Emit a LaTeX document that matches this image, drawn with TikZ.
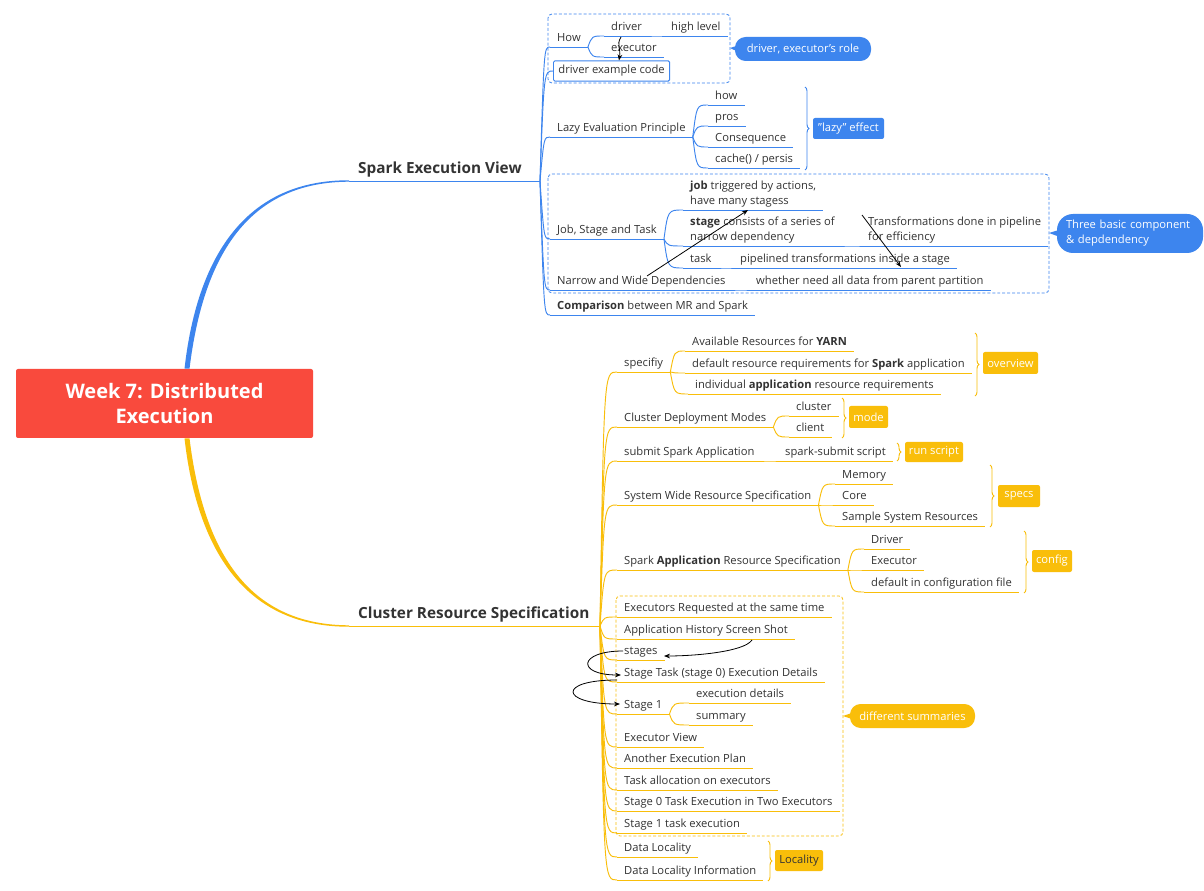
\documentclass[tikz,border=0pt]{standalone}
\usepackage{fontspec}
\setmainfont{Open Sans}
\usetikzlibrary{calc, arrows.meta, decorations.pathreplacing}
\definecolor{mmblue}{HTML}{3D85EE}
\definecolor{mmyellow}{HTML}{F9BE0A}
\definecolor{mmred}{HTML}{F94A3D}
\definecolor{mmtext}{HTML}{333333}

\tikzset{
  topic/.style={anchor=south west, inner xsep=5.2pt, inner ysep=2pt, text depth=2pt,
    font=\fontsize{8.4}{11.25}\selectfont, text=mmtext},
  branch/.style={anchor=south west, inner xsep=6.7pt, inner ysep=3pt, text depth=2.5pt,
    font=\bfseries\fontsize{11.5}{13}\selectfont, text=mmtext},
  rootbox/.style={fill=mmred, rounded corners=1.5pt, text=white, align=center,
    minimum width=222.75pt, minimum height=51.75pt, font=\bfseries\fontsize{15}{19}\selectfont},
  codebox/.style={anchor=west, draw=mmblue, line width=0.7pt, rounded corners=1pt, inner xsep=3.7pt,
    minimum height=13.5pt, font=\fontsize{8.4}{10}\selectfont, text=mmtext},
  bline/.style={draw=mmblue, line width=0.7pt},
  yline/.style={draw=mmyellow, line width=0.7pt},
  bdash/.style={draw=mmblue, line width=0.6pt, dash pattern=on 2.2pt off 1.5pt, rounded corners=3pt},
  ydash/.style={draw=mmyellow, line width=0.6pt, dash pattern=on 2.2pt off 1.5pt, rounded corners=3pt},
  bbrace/.style={draw=mmblue, line width=0.7pt, decorate, decoration={brace, amplitude=3pt}},
  ybrace/.style={draw=mmyellow, line width=0.7pt, decorate, decoration={brace, amplitude=3pt}},
  tag/.style={rounded corners=1.5pt, text=white, inner sep=0pt, font=\fontsize{8.4}{10}\selectfont},
  pill/.style={rounded corners=8pt, text=white, inner sep=0pt, align=left, font=\fontsize{8.4}{11.25}\selectfont},
  arr/.style={draw=black, line width=0.6pt, -{Stealth[length=4.5pt, width=3.5pt]}},
}

\begin{document}
\begin{tikzpicture}[x=0.75pt, y=-0.75pt]
\useasboundingbox (0,0) rectangle (1204,891);
\fill[white] (0,0) rectangle (1204,891);

% root and main branches
\node[rootbox] (root) at (164.5,403.5) {Week 7: Distributed\\Execution};
\node[branch] (sev) at (349,181) {Spark Execution View};
\node[branch] (crs) at (349,626) {Cluster Resource Specification};
\coordinate (sevend) at ($(sev.south west)+(191,0)$);
\coordinate (crsend) at ($(crs.south west)+(251,0)$);
\fill[mmblue] ($(root.north)+(20,0)$) .. controls (198,250) and (250,180) .. ($(sev.south west)+(0,-0.7)$)
  -- ($(sev.south west)+(0,0.7)$) .. controls (252,182) and (204,250) .. ($(root.north)+(25,0)$) -- cycle;
\fill[mmyellow] ($(root.south)+(20,0)$) .. controls (198,557) and (250,627) .. ($(crs.south west)+(0,0.7)$)
  -- ($(crs.south west)+(0,-0.7)$) .. controls (252,625) and (204,557) .. ($(root.south)+(25,0)$) -- cycle;
\draw[bline] (sev.south west) -- (sevend);
\draw[yline] (crs.south west) -- (crsend);

% Spark Execution View
\node[topic] (how) at (550,47) {How};
\node[topic] (driver) at (604,36) {driver};
\node[topic] (high) at (664,36) {high level};
\node[topic] (executor) at (604,57) {executor};
\node[codebox] (code) at (553,71) {driver example code};
\node[topic] (lazy) at (550,137) {Lazy Evaluation Principle};
\node[topic] (how2) at (708,105) {how};
\node[topic] (pros) at (708,126) {pros};
\node[topic] (cons) at (708,147) {Consequence};
\node[topic] (cache) at (708,168) {cache() / persis};
\node[topic] (jst) at (550,239) {Job, Stage and Task};
\node[topic, align=left] (job) at (683,210) {\textbf{job} triggered by actions,\\have many stagess};
\node[topic, align=left] (stage) at (683,246) {\textbf{stage} consists of a series of\\narrow dependency};
\node[topic, align=left] (trans) at (861,246) {Transformations done in pipeline\\for efficiency};
\node[topic] (task) at (683,268) {task};
\node[topic] (pipe) at (733,268) {pipelined transformations inside a stage};
\node[topic] (nwd) at (550,290) {Narrow and Wide Dependencies};
\node[topic] (whether) at (749,290) {whether need all data from parent partition};
\node[topic] (cmp) at (550,315) {\textbf{Comparison} between MR and Spark};

\foreach \n in {how,driver,high,executor,lazy,how2,pros,cons,cache,jst,job,stage,trans,task,pipe,nwd,whether,cmp}
  \draw[bline] (\n.south west) -- (\n.south east);
\foreach \c in {how,lazy,jst,nwd,cmp}
  \draw[bline] (sevend) .. controls ($(sevend |- \c.south west)+(4,0)$) .. (\c.south west);
\draw[bline] (sevend) .. controls ($(sevend |- code.west)+(4,0)$) .. (code.west);
\foreach \p/\c in {how/driver,how/executor,driver/high,lazy/how2,lazy/pros,lazy/cons,lazy/cache,
    jst/job,jst/stage,jst/task,stage/trans,task/pipe,nwd/whether}
  \draw[bline] (\p.south east) .. controls ($(\p.south east |- \c.south west)+(4,0)$) .. (\c.south west);

% boundaries and summaries
\draw[bdash] (548,14) rectangle (730,83);
\draw[bdash] (548,174) rectangle (1049,293);
\node[pill, fill=mmblue, minimum width=102pt, minimum height=18pt, align=center] (role) at (803,49) {driver, executor's role};
\fill[mmblue] (730,48) -- ($(role.west)+(8,-5)$) -- ($(role.west)+(8,5)$) -- cycle;
\draw[bbrace] (805,87) -- (805,170);
\node[tag, fill=mmblue, minimum width=53.25pt, minimum height=15.75pt] (lazyfx) at (848.5,128.5) {"lazy" effect};
\node[pill, fill=mmblue, minimum width=109.5pt, minimum height=29.25pt, rounded corners=12pt, text width=96pt] (three) at (1130,233.5) {Three basic component\\\& depdendency};
\fill[mmblue] (1049,233) -- ($(three.west)+(10,-6)$) -- ($(three.west)+(10,6)$) -- cycle;

% arrows
\draw[arr] ($(driver.south west)+(17,1)$) .. controls +(-5,8) and +(2,-12) .. ($(code.north west)+(66,0)$);
\draw[arr] ($(nwd.south west)+(97,-14)$) -- ($(job.south west)+(65,0)$);
\draw[arr] ($(stage.south west)+(179,-31)$) -- ($(pipe.south west)+(168,-1)$);

% Cluster Resource Specification
\node[topic] (specifiy) at (617,372) {specifiy};
\node[topic] (yarn) at (685,351) {Available Resources for \textbf{YARN}};
\node[topic] (sparkapp) at (685,373) {default resource requirements for \textbf{Spark} application};
\node[topic] (indiv) at (688,394) {individual \textbf{application} resource requirements};
\node[topic] (cdm) at (617,427) {Cluster Deployment Modes};
\node[topic] (cluster) at (789,416) {cluster};
\node[topic] (client) at (789,437) {client};
\node[topic] (submit) at (617,461) {submit Spark Application};
\node[topic] (sscript) at (778,461) {spark-submit script};
\node[topic] (sysw) at (617,505) {System Wide Resource Specification};
\node[topic] (memory) at (835,484) {Memory};
\node[topic] (core) at (835,505) {Core};
\node[topic] (sample) at (835,526) {Sample System Resources};
\node[topic] (appres) at (617,570) {Spark \textbf{Application} Resource Specification};
\node[topic] (drv) at (864,549) {Driver};
\node[topic] (exe) at (864,570) {Executor};
\node[topic] (dflt) at (864,592) {default in configuration file};
\node[topic] (req) at (617,617) {Executors Requested at the same time};
\node[topic] (hist) at (617,639) {Application History Screen Shot};
\node[topic] (stages) at (617,660) {stages};
\node[topic] (st0) at (617,682) {Stage Task (stage 0) Execution Details};
\node[topic] (st1) at (617,714) {Stage 1};
\node[topic] (execdet) at (689,703) {execution details};
\node[topic] (summ) at (689,725) {summary};
\node[topic] (exview) at (617,747) {Executor View};
\node[topic] (another) at (617,768) {Another Execution Plan};
\node[topic] (alloc) at (617,790) {Task allocation on executors};
\node[topic] (twoexec) at (617,811) {Stage 0 Task Execution in Two Executors};
\node[topic] (st1task) at (617,833) {Stage 1 task execution};
\node[topic] (dl) at (617,857) {Data Locality};
\node[topic] (dli) at (617,880) {Data Locality Information};

\foreach \n in {specifiy,yarn,sparkapp,indiv,cdm,cluster,client,submit,sscript,sysw,memory,core,sample,
    appres,drv,exe,dflt,req,hist,stages,st0,st1,execdet,summ,exview,another,alloc,twoexec,st1task,dl,dli}
  \draw[yline] (\n.south west) -- (\n.south east);
\foreach \c in {specifiy,cdm,submit,sysw,appres,req,hist,stages,st0,st1,exview,another,alloc,twoexec,st1task,dl,dli}
  \draw[yline] (crsend) .. controls ($(crsend |- \c.south west)+(4,0)$) .. (\c.south west);
\foreach \p/\c in {specifiy/yarn,specifiy/sparkapp,specifiy/indiv,cdm/cluster,cdm/client,submit/sscript,
    sysw/memory,sysw/core,sysw/sample,appres/drv,appres/exe,appres/dflt,st1/execdet,st1/summ}
  \draw[yline] (\p.south east) .. controls ($(\p.south east |- \c.south west)+(4,0)$) .. (\c.south west);

% boundaries and summaries
\draw[ydash] (616,596) rectangle (843,836);
\node[pill, fill=mmyellow, minimum width=93.75pt, minimum height=18pt, align=center] (diffsum) at (912.5,716) {different summaries};
\fill[mmyellow] (843,716) -- ($(diffsum.west)+(8,-5)$) -- ($(diffsum.west)+(8,5)$) -- cycle;
\draw[ybrace] (975,333) -- (975,396);
\node[tag, fill=mmyellow, minimum width=41.25pt, minimum height=16.5pt] (overview) at (1010.5,363) {overview};
\draw[ybrace] (842,398) -- (842,438);
\node[tag, fill=mmyellow, minimum width=29.25pt, minimum height=16.5pt] (mode) at (868.5,417) {mode};
\draw[ybrace] (897,443) -- (897,461);
\node[tag, fill=mmyellow, minimum width=43.5pt, minimum height=15pt] (runscript) at (934,452) {run script};
\draw[ybrace] (990,465) -- (990,527);
\node[tag, fill=mmyellow, minimum width=31.5pt, minimum height=16.5pt] (specs) at (1019,496) {specs};
\draw[ybrace] (1024,531) -- (1024,593);
\node[tag, fill=mmyellow, minimum width=30pt, minimum height=16.5pt] (config) at (1052,561) {config};
\draw[ybrace] (768,841) -- (768,881);
\node[tag, fill=mmyellow, minimum width=36pt, minimum height=15.75pt, text=mmtext] (locality) at (799,860.5) {Locality};

% arrows
\draw[arr] ($(hist.south west)+(135,1)$) .. controls +(-8,12) and +(30,0) .. ($(stages.south west)+(47,-4)$);
\draw[arr] ($(stages.south west)+(6,-9)$) .. controls +(-45,0) and +(-45,0) .. ($(st0.south west)+(4,-7)$);
\draw[arr] ($(st0.south west)+(0,-2)$) .. controls +(-60,0) and +(-60,0) .. ($(st1.south west)+(3,-10)$);
\end{tikzpicture}
\end{document}
